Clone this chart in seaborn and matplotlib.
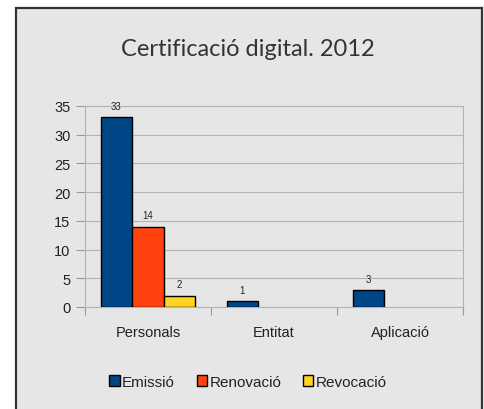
import numpy as np
import pandas as pd
import matplotlib
matplotlib.use("Agg")
import matplotlib.pyplot as plt
from matplotlib.patches import Rectangle
import seaborn as sns

categories = ["Personals", "Entitat", "Aplicació"]
series = ["Emissió", "Renovació", "Revocació"]
emissio = [33, 1, 3]
renovacio = [14, None, None]
revocacio = [2, None, None]
colors = ["#004586", "#ff420e", "#ffd320"]
title = "Certificació digital. 2012"

rows = []
for s, vals in zip(series, [emissio, renovacio, revocacio]):
    for c, v in zip(categories, vals):
        if v is not None:
            rows.append({"cat": c, "serie": s, "val": v})
df = pd.DataFrame(rows)

sns.set_theme(style="white")
plt.rcParams["font.family"] = ["Liberation Sans", "DejaVu Sans"]

fig = plt.figure(figsize=(4.85, 4.10), dpi=100)
fig.patch.set_facecolor("white")
W, H = 485, 410
panel = Rectangle((16 / W, -0.05), (482 - 16) / W, (H - 9) / H + 0.05,
                  transform=fig.transFigure, facecolor="#e6e6e6",
                  edgecolor="#333333", linewidth=1.6, zorder=-10)
fig.add_artist(panel)

ax = fig.add_axes([85 / W, (H - 308) / H, (463 - 85) / W, (308 - 107) / H])
ax.set_zorder(5)
ax.set_facecolor("#e6e6e6")
sns.barplot(data=df, x="cat", y="val", hue="serie", order=categories,
            hue_order=series, palette=colors, width=0.75, edgecolor="black",
            linewidth=1.0, saturation=1, ax=ax, legend=True, zorder=3)

for cont in ax.containers:
    ax.bar_label(cont, fontsize=7, padding=4.5, color="#222222")

ax.set_ylim(0, 35)
ax.set_xlim(-0.5, 2.5)
ax.set_yticks(range(0, 36, 5))
ax.yaxis.grid(True, color="#b3b3b3", linewidth=0.8, zorder=0)
ax.set_axisbelow(True)
for sp in ax.spines.values():
    sp.set_color("#b3b3b3")
    sp.set_linewidth(0.8)
ax.set_xlabel("")
ax.set_ylabel("")
ax.tick_params(axis="y", length=6.5, width=0.8, color="#999999", pad=4,
               labelsize=10.5, labelcolor="#222222", left=True)
ax.tick_params(axis="x", which="major", length=0, pad=13, labelsize=10.5,
               labelcolor="#222222")
ax.set_xticks([-0.5, 0.5, 1.5, 2.5], minor=True)
ax.tick_params(axis="x", which="minor", length=6, width=0.8, color="#999999",
               bottom=True)

handles, labels = ax.get_legend_handles_labels()
ax.legend_.remove()
fig.legend(handles, labels, loc="center", bbox_to_anchor=(248 / W, (H - 383) / H),
           ncol=3, frameon=False, fontsize=11, handlelength=0.7,
           handleheight=0.7, handletextpad=0.15, columnspacing=1.4,
           labelcolor="#222222")

fig.text(248 / W, (H - 50) / H, title, ha="center", va="center",
         fontsize=17, color="#333333", family=["Lato", "DejaVu Sans"])

fig.savefig("out.png", dpi=100)
